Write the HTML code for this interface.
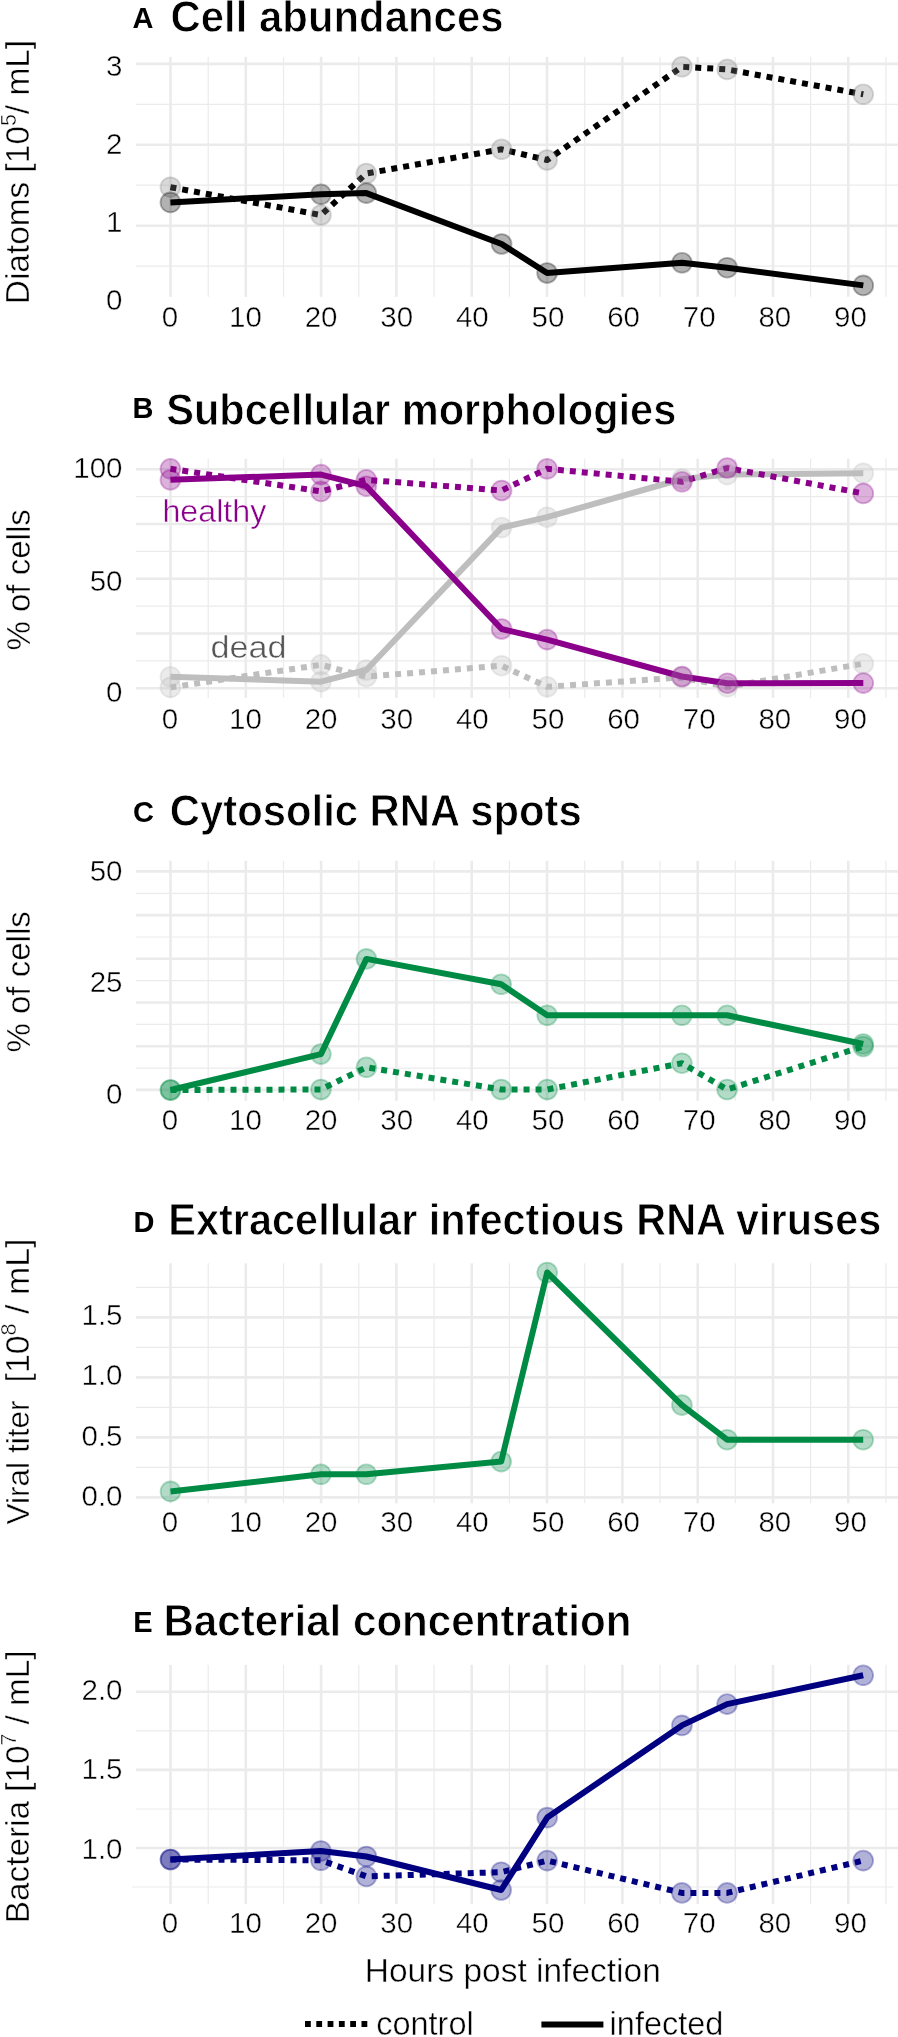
<!DOCTYPE html><html><head><meta charset="utf-8"><style>html,body{margin:0;padding:0;background:#fff;width:898px;height:2037px;overflow:hidden}svg{display:block;will-change:transform}text{font-family:"Liberation Sans",sans-serif}</style></head><body>
<svg width="898" height="2037" viewBox="0 0 898 2037">
<rect width="898" height="2037" fill="#fff"/>
<line x1="170.5" y1="56.8" x2="170.5" y2="296.8" stroke="#EBEBEB" stroke-width="2.6"/>
<line x1="245.8" y1="56.8" x2="245.8" y2="296.8" stroke="#EBEBEB" stroke-width="2.6"/>
<line x1="321.1" y1="56.8" x2="321.1" y2="296.8" stroke="#EBEBEB" stroke-width="2.6"/>
<line x1="396.4" y1="56.8" x2="396.4" y2="296.8" stroke="#EBEBEB" stroke-width="2.6"/>
<line x1="471.7" y1="56.8" x2="471.7" y2="296.8" stroke="#EBEBEB" stroke-width="2.6"/>
<line x1="547.0" y1="56.8" x2="547.0" y2="296.8" stroke="#EBEBEB" stroke-width="2.6"/>
<line x1="622.4" y1="56.8" x2="622.4" y2="296.8" stroke="#EBEBEB" stroke-width="2.6"/>
<line x1="697.7" y1="56.8" x2="697.7" y2="296.8" stroke="#EBEBEB" stroke-width="2.6"/>
<line x1="773.0" y1="56.8" x2="773.0" y2="296.8" stroke="#EBEBEB" stroke-width="2.6"/>
<line x1="848.3" y1="56.8" x2="848.3" y2="296.8" stroke="#EBEBEB" stroke-width="2.6"/>
<line x1="208.2" y1="56.8" x2="208.2" y2="296.8" stroke="#EBEBEB" stroke-width="1.2"/>
<line x1="283.5" y1="56.8" x2="283.5" y2="296.8" stroke="#EBEBEB" stroke-width="1.2"/>
<line x1="358.8" y1="56.8" x2="358.8" y2="296.8" stroke="#EBEBEB" stroke-width="1.2"/>
<line x1="434.1" y1="56.8" x2="434.1" y2="296.8" stroke="#EBEBEB" stroke-width="1.2"/>
<line x1="509.4" y1="56.8" x2="509.4" y2="296.8" stroke="#EBEBEB" stroke-width="1.2"/>
<line x1="584.7" y1="56.8" x2="584.7" y2="296.8" stroke="#EBEBEB" stroke-width="1.2"/>
<line x1="660.0" y1="56.8" x2="660.0" y2="296.8" stroke="#EBEBEB" stroke-width="1.2"/>
<line x1="735.3" y1="56.8" x2="735.3" y2="296.8" stroke="#EBEBEB" stroke-width="1.2"/>
<line x1="810.6" y1="56.8" x2="810.6" y2="296.8" stroke="#EBEBEB" stroke-width="1.2"/>
<line x1="885.9" y1="56.8" x2="885.9" y2="296.8" stroke="#EBEBEB" stroke-width="1.2"/>
<line x1="136.0" y1="104.4" x2="898.0" y2="104.4" stroke="#EBEBEB" stroke-width="1.2"/>
<line x1="136.0" y1="185.2" x2="898.0" y2="185.2" stroke="#EBEBEB" stroke-width="1.2"/>
<line x1="136.0" y1="266.2" x2="898.0" y2="266.2" stroke="#EBEBEB" stroke-width="1.2"/>
<line x1="136.0" y1="63.9" x2="898.0" y2="63.9" stroke="#EBEBEB" stroke-width="2.6"/>
<line x1="136.0" y1="144.8" x2="898.0" y2="144.8" stroke="#EBEBEB" stroke-width="2.6"/>
<line x1="136.0" y1="225.7" x2="898.0" y2="225.7" stroke="#EBEBEB" stroke-width="2.6"/>
<text x="132.5" y="27.8" font-size="29" font-weight="700" fill="#000">A</text>
<text x="170.5" y="32.2" font-size="43.5" font-weight="700" fill="#000" stroke="#fff" stroke-width="0.8" textLength="333" lengthAdjust="spacingAndGlyphs">Cell abundances</text>
<text x="122.5" y="75.9" font-size="29.5" text-anchor="end" fill="#000" stroke="#fff" stroke-width="0.45">3</text>
<text x="122.5" y="154.4" font-size="29.5" text-anchor="end" fill="#000" stroke="#fff" stroke-width="0.45">2</text>
<text x="122.5" y="231.8" font-size="29.5" text-anchor="end" fill="#000" stroke="#fff" stroke-width="0.45">1</text>
<text x="122.5" y="310.3" font-size="29.5" text-anchor="end" fill="#000" stroke="#fff" stroke-width="0.45">0</text>
<text x="169.9" y="327.2" font-size="29.5" text-anchor="middle" fill="#000" stroke="#fff" stroke-width="0.45">0</text>
<text x="245.5" y="327.2" font-size="29.5" text-anchor="middle" fill="#000" stroke="#fff" stroke-width="0.45">10</text>
<text x="321.1" y="327.2" font-size="29.5" text-anchor="middle" fill="#000" stroke="#fff" stroke-width="0.45">20</text>
<text x="396.7" y="327.2" font-size="29.5" text-anchor="middle" fill="#000" stroke="#fff" stroke-width="0.45">30</text>
<text x="472.3" y="327.2" font-size="29.5" text-anchor="middle" fill="#000" stroke="#fff" stroke-width="0.45">40</text>
<text x="548.0" y="327.2" font-size="29.5" text-anchor="middle" fill="#000" stroke="#fff" stroke-width="0.45">50</text>
<text x="623.6" y="327.2" font-size="29.5" text-anchor="middle" fill="#000" stroke="#fff" stroke-width="0.45">60</text>
<text x="699.2" y="327.2" font-size="29.5" text-anchor="middle" fill="#000" stroke="#fff" stroke-width="0.45">70</text>
<text x="774.8" y="327.2" font-size="29.5" text-anchor="middle" fill="#000" stroke="#fff" stroke-width="0.45">80</text>
<text x="850.4" y="327.2" font-size="29.5" text-anchor="middle" fill="#000" stroke="#fff" stroke-width="0.45">90</text>
<text transform="translate(29,304.2) rotate(-90)" font-size="33.4" fill="#000" stroke="#fff" stroke-width="0.45"><tspan>Diatoms [10</tspan><tspan font-size="21.4" dy="-13">5</tspan><tspan dy="13">/ mL]</tspan></text>
<path d="M170.4,202.4 L321.0,194.3 L366.3,193.1 L501.6,244.0 L547.1,273.0 L682.0,262.8 L727.2,267.7 L863.3,285.4" fill="none" stroke="#000" stroke-width="6" stroke-linejoin="round" stroke-linecap="butt"/>
<path d="M170.4,187.2 L321.0,215.0 L366.3,173.5 L501.6,149.3 L547.1,160.0 L682.0,66.8 L727.2,69.4 L863.3,94.3" fill="none" stroke="#000" stroke-width="6" stroke-linejoin="round" stroke-linecap="butt" stroke-dasharray="6 6"/>
<circle cx="170.4" cy="187.2" r="9.9" fill="#808080" fill-opacity="0.3" stroke="#808080" stroke-opacity="0.3" stroke-width="1.8"/>
<circle cx="321.0" cy="215.0" r="9.9" fill="#808080" fill-opacity="0.3" stroke="#808080" stroke-opacity="0.3" stroke-width="1.8"/>
<circle cx="366.3" cy="173.5" r="9.9" fill="#808080" fill-opacity="0.3" stroke="#808080" stroke-opacity="0.3" stroke-width="1.8"/>
<circle cx="501.6" cy="149.3" r="9.9" fill="#808080" fill-opacity="0.3" stroke="#808080" stroke-opacity="0.3" stroke-width="1.8"/>
<circle cx="547.1" cy="160.0" r="9.9" fill="#808080" fill-opacity="0.3" stroke="#808080" stroke-opacity="0.3" stroke-width="1.8"/>
<circle cx="682.0" cy="66.8" r="9.9" fill="#808080" fill-opacity="0.3" stroke="#808080" stroke-opacity="0.3" stroke-width="1.8"/>
<circle cx="727.2" cy="69.4" r="9.9" fill="#808080" fill-opacity="0.3" stroke="#808080" stroke-opacity="0.3" stroke-width="1.8"/>
<circle cx="863.3" cy="94.3" r="9.9" fill="#808080" fill-opacity="0.3" stroke="#808080" stroke-opacity="0.3" stroke-width="1.8"/>
<circle cx="170.4" cy="202.4" r="9.9" fill="#000" fill-opacity="0.3" stroke="#000" stroke-opacity="0.3" stroke-width="1.8"/>
<circle cx="321.0" cy="194.3" r="9.9" fill="#000" fill-opacity="0.3" stroke="#000" stroke-opacity="0.3" stroke-width="1.8"/>
<circle cx="366.3" cy="193.1" r="9.9" fill="#000" fill-opacity="0.3" stroke="#000" stroke-opacity="0.3" stroke-width="1.8"/>
<circle cx="501.6" cy="244.0" r="9.9" fill="#000" fill-opacity="0.3" stroke="#000" stroke-opacity="0.3" stroke-width="1.8"/>
<circle cx="547.1" cy="273.0" r="9.9" fill="#000" fill-opacity="0.3" stroke="#000" stroke-opacity="0.3" stroke-width="1.8"/>
<circle cx="682.0" cy="262.8" r="9.9" fill="#000" fill-opacity="0.3" stroke="#000" stroke-opacity="0.3" stroke-width="1.8"/>
<circle cx="727.2" cy="267.7" r="9.9" fill="#000" fill-opacity="0.3" stroke="#000" stroke-opacity="0.3" stroke-width="1.8"/>
<circle cx="863.3" cy="285.4" r="9.9" fill="#000" fill-opacity="0.3" stroke="#000" stroke-opacity="0.3" stroke-width="1.8"/>
<line x1="170.5" y1="458.7" x2="170.5" y2="697.9" stroke="#EBEBEB" stroke-width="2.6"/>
<line x1="245.8" y1="458.7" x2="245.8" y2="697.9" stroke="#EBEBEB" stroke-width="2.6"/>
<line x1="321.1" y1="458.7" x2="321.1" y2="697.9" stroke="#EBEBEB" stroke-width="2.6"/>
<line x1="396.4" y1="458.7" x2="396.4" y2="697.9" stroke="#EBEBEB" stroke-width="2.6"/>
<line x1="471.7" y1="458.7" x2="471.7" y2="697.9" stroke="#EBEBEB" stroke-width="2.6"/>
<line x1="547.0" y1="458.7" x2="547.0" y2="697.9" stroke="#EBEBEB" stroke-width="2.6"/>
<line x1="622.4" y1="458.7" x2="622.4" y2="697.9" stroke="#EBEBEB" stroke-width="2.6"/>
<line x1="697.7" y1="458.7" x2="697.7" y2="697.9" stroke="#EBEBEB" stroke-width="2.6"/>
<line x1="773.0" y1="458.7" x2="773.0" y2="697.9" stroke="#EBEBEB" stroke-width="2.6"/>
<line x1="848.3" y1="458.7" x2="848.3" y2="697.9" stroke="#EBEBEB" stroke-width="2.6"/>
<line x1="208.2" y1="458.7" x2="208.2" y2="697.9" stroke="#EBEBEB" stroke-width="1.2"/>
<line x1="283.5" y1="458.7" x2="283.5" y2="697.9" stroke="#EBEBEB" stroke-width="1.2"/>
<line x1="358.8" y1="458.7" x2="358.8" y2="697.9" stroke="#EBEBEB" stroke-width="1.2"/>
<line x1="434.1" y1="458.7" x2="434.1" y2="697.9" stroke="#EBEBEB" stroke-width="1.2"/>
<line x1="509.4" y1="458.7" x2="509.4" y2="697.9" stroke="#EBEBEB" stroke-width="1.2"/>
<line x1="584.7" y1="458.7" x2="584.7" y2="697.9" stroke="#EBEBEB" stroke-width="1.2"/>
<line x1="660.0" y1="458.7" x2="660.0" y2="697.9" stroke="#EBEBEB" stroke-width="1.2"/>
<line x1="735.3" y1="458.7" x2="735.3" y2="697.9" stroke="#EBEBEB" stroke-width="1.2"/>
<line x1="810.6" y1="458.7" x2="810.6" y2="697.9" stroke="#EBEBEB" stroke-width="1.2"/>
<line x1="885.9" y1="458.7" x2="885.9" y2="697.9" stroke="#EBEBEB" stroke-width="1.2"/>
<line x1="136.0" y1="660.9" x2="898.0" y2="660.9" stroke="#EBEBEB" stroke-width="1.2"/>
<line x1="136.0" y1="606.1" x2="898.0" y2="606.1" stroke="#EBEBEB" stroke-width="1.2"/>
<line x1="136.0" y1="551.4" x2="898.0" y2="551.4" stroke="#EBEBEB" stroke-width="1.2"/>
<line x1="136.0" y1="496.6" x2="898.0" y2="496.6" stroke="#EBEBEB" stroke-width="1.2"/>
<line x1="136.0" y1="688.3" x2="898.0" y2="688.3" stroke="#EBEBEB" stroke-width="2.6"/>
<line x1="136.0" y1="633.5" x2="898.0" y2="633.5" stroke="#EBEBEB" stroke-width="2.6"/>
<line x1="136.0" y1="578.8" x2="898.0" y2="578.8" stroke="#EBEBEB" stroke-width="2.6"/>
<line x1="136.0" y1="524.0" x2="898.0" y2="524.0" stroke="#EBEBEB" stroke-width="2.6"/>
<line x1="136.0" y1="469.2" x2="898.0" y2="469.2" stroke="#EBEBEB" stroke-width="2.6"/>
<text x="132.5" y="418.2" font-size="29" font-weight="700" fill="#000">B</text>
<text x="166.3" y="425.0" font-size="43.5" font-weight="700" fill="#000" stroke="#fff" stroke-width="0.8" textLength="510" lengthAdjust="spacingAndGlyphs">Subcellular morphologies</text>
<text x="122.5" y="478.2" font-size="29.5" text-anchor="end" fill="#000" stroke="#fff" stroke-width="0.45">100</text>
<text x="122.5" y="590.8" font-size="29.5" text-anchor="end" fill="#000" stroke="#fff" stroke-width="0.45">50</text>
<text x="122.5" y="701.9" font-size="29.5" text-anchor="end" fill="#000" stroke="#fff" stroke-width="0.45">0</text>
<text x="169.9" y="728.6" font-size="29.5" text-anchor="middle" fill="#000" stroke="#fff" stroke-width="0.45">0</text>
<text x="245.5" y="728.6" font-size="29.5" text-anchor="middle" fill="#000" stroke="#fff" stroke-width="0.45">10</text>
<text x="321.1" y="728.6" font-size="29.5" text-anchor="middle" fill="#000" stroke="#fff" stroke-width="0.45">20</text>
<text x="396.7" y="728.6" font-size="29.5" text-anchor="middle" fill="#000" stroke="#fff" stroke-width="0.45">30</text>
<text x="472.3" y="728.6" font-size="29.5" text-anchor="middle" fill="#000" stroke="#fff" stroke-width="0.45">40</text>
<text x="548.0" y="728.6" font-size="29.5" text-anchor="middle" fill="#000" stroke="#fff" stroke-width="0.45">50</text>
<text x="623.6" y="728.6" font-size="29.5" text-anchor="middle" fill="#000" stroke="#fff" stroke-width="0.45">60</text>
<text x="699.2" y="728.6" font-size="29.5" text-anchor="middle" fill="#000" stroke="#fff" stroke-width="0.45">70</text>
<text x="774.8" y="728.6" font-size="29.5" text-anchor="middle" fill="#000" stroke="#fff" stroke-width="0.45">80</text>
<text x="850.4" y="728.6" font-size="29.5" text-anchor="middle" fill="#000" stroke="#fff" stroke-width="0.45">90</text>
<text transform="translate(29.8,650.5) rotate(-90)" font-size="33" fill="#000" stroke="#fff" stroke-width="0.45"><tspan>% of cells</tspan></text>
<path d="M170.4,687.4 L321.0,664.8 L366.3,676.7 L501.6,665.7 L547.1,686.8 L682.0,677.4 L727.4,686.8 L863.3,663.7" fill="none" stroke="#BEBEBE" stroke-width="6" stroke-linejoin="round" stroke-linecap="butt" stroke-dasharray="6 6"/>
<path d="M170.4,676.8 L321.0,681.7 L366.3,670.0 L501.6,527.6 L547.1,517.2 L682.0,479.0 L727.2,474.6 L863.3,473.2" fill="none" stroke="#BEBEBE" stroke-width="6" stroke-linejoin="round" stroke-linecap="butt"/>
<path d="M170.4,468.8 L321.0,491.4 L366.3,479.8 L501.6,490.5 L547.1,468.8 L682.0,481.8 L727.2,468.0 L863.3,493.4" fill="none" stroke="#8B008B" stroke-width="6" stroke-linejoin="round" stroke-linecap="butt" stroke-dasharray="6 6"/>
<path d="M170.4,479.8 L321.0,474.6 L366.3,486.2 L501.6,629.0 L547.1,639.6 L682.0,676.5 L727.4,683.2 L863.3,683.1" fill="none" stroke="#8B008B" stroke-width="6" stroke-linejoin="round" stroke-linecap="butt"/>
<circle cx="170.4" cy="687.4" r="9.9" fill="#BEBEBE" fill-opacity="0.3" stroke="#BEBEBE" stroke-opacity="0.3" stroke-width="1.8"/>
<circle cx="321.0" cy="664.8" r="9.9" fill="#BEBEBE" fill-opacity="0.3" stroke="#BEBEBE" stroke-opacity="0.3" stroke-width="1.8"/>
<circle cx="366.3" cy="676.7" r="9.9" fill="#BEBEBE" fill-opacity="0.3" stroke="#BEBEBE" stroke-opacity="0.3" stroke-width="1.8"/>
<circle cx="501.6" cy="665.7" r="9.9" fill="#BEBEBE" fill-opacity="0.3" stroke="#BEBEBE" stroke-opacity="0.3" stroke-width="1.8"/>
<circle cx="547.1" cy="686.8" r="9.9" fill="#BEBEBE" fill-opacity="0.3" stroke="#BEBEBE" stroke-opacity="0.3" stroke-width="1.8"/>
<circle cx="682.0" cy="677.4" r="9.9" fill="#BEBEBE" fill-opacity="0.3" stroke="#BEBEBE" stroke-opacity="0.3" stroke-width="1.8"/>
<circle cx="727.4" cy="686.8" r="9.9" fill="#BEBEBE" fill-opacity="0.3" stroke="#BEBEBE" stroke-opacity="0.3" stroke-width="1.8"/>
<circle cx="863.3" cy="663.7" r="9.9" fill="#BEBEBE" fill-opacity="0.3" stroke="#BEBEBE" stroke-opacity="0.3" stroke-width="1.8"/>
<circle cx="170.4" cy="676.8" r="9.9" fill="#BEBEBE" fill-opacity="0.3" stroke="#BEBEBE" stroke-opacity="0.3" stroke-width="1.8"/>
<circle cx="321.0" cy="681.7" r="9.9" fill="#BEBEBE" fill-opacity="0.3" stroke="#BEBEBE" stroke-opacity="0.3" stroke-width="1.8"/>
<circle cx="366.3" cy="670.0" r="9.9" fill="#BEBEBE" fill-opacity="0.3" stroke="#BEBEBE" stroke-opacity="0.3" stroke-width="1.8"/>
<circle cx="501.6" cy="527.6" r="9.9" fill="#BEBEBE" fill-opacity="0.3" stroke="#BEBEBE" stroke-opacity="0.3" stroke-width="1.8"/>
<circle cx="547.1" cy="517.2" r="9.9" fill="#BEBEBE" fill-opacity="0.3" stroke="#BEBEBE" stroke-opacity="0.3" stroke-width="1.8"/>
<circle cx="682.0" cy="479.0" r="9.9" fill="#BEBEBE" fill-opacity="0.3" stroke="#BEBEBE" stroke-opacity="0.3" stroke-width="1.8"/>
<circle cx="727.2" cy="474.6" r="9.9" fill="#BEBEBE" fill-opacity="0.3" stroke="#BEBEBE" stroke-opacity="0.3" stroke-width="1.8"/>
<circle cx="863.3" cy="473.2" r="9.9" fill="#BEBEBE" fill-opacity="0.3" stroke="#BEBEBE" stroke-opacity="0.3" stroke-width="1.8"/>
<circle cx="170.4" cy="468.8" r="9.9" fill="#8B008B" fill-opacity="0.3" stroke="#8B008B" stroke-opacity="0.3" stroke-width="1.8"/>
<circle cx="321.0" cy="491.4" r="9.9" fill="#8B008B" fill-opacity="0.3" stroke="#8B008B" stroke-opacity="0.3" stroke-width="1.8"/>
<circle cx="366.3" cy="479.8" r="9.9" fill="#8B008B" fill-opacity="0.3" stroke="#8B008B" stroke-opacity="0.3" stroke-width="1.8"/>
<circle cx="501.6" cy="490.5" r="9.9" fill="#8B008B" fill-opacity="0.3" stroke="#8B008B" stroke-opacity="0.3" stroke-width="1.8"/>
<circle cx="547.1" cy="468.8" r="9.9" fill="#8B008B" fill-opacity="0.3" stroke="#8B008B" stroke-opacity="0.3" stroke-width="1.8"/>
<circle cx="682.0" cy="481.8" r="9.9" fill="#8B008B" fill-opacity="0.3" stroke="#8B008B" stroke-opacity="0.3" stroke-width="1.8"/>
<circle cx="727.2" cy="468.0" r="9.9" fill="#8B008B" fill-opacity="0.3" stroke="#8B008B" stroke-opacity="0.3" stroke-width="1.8"/>
<circle cx="863.3" cy="493.4" r="9.9" fill="#8B008B" fill-opacity="0.3" stroke="#8B008B" stroke-opacity="0.3" stroke-width="1.8"/>
<circle cx="170.4" cy="479.8" r="9.9" fill="#8B008B" fill-opacity="0.3" stroke="#8B008B" stroke-opacity="0.3" stroke-width="1.8"/>
<circle cx="321.0" cy="474.6" r="9.9" fill="#8B008B" fill-opacity="0.3" stroke="#8B008B" stroke-opacity="0.3" stroke-width="1.8"/>
<circle cx="366.3" cy="486.2" r="9.9" fill="#8B008B" fill-opacity="0.3" stroke="#8B008B" stroke-opacity="0.3" stroke-width="1.8"/>
<circle cx="501.6" cy="629.0" r="9.9" fill="#8B008B" fill-opacity="0.3" stroke="#8B008B" stroke-opacity="0.3" stroke-width="1.8"/>
<circle cx="547.1" cy="639.6" r="9.9" fill="#8B008B" fill-opacity="0.3" stroke="#8B008B" stroke-opacity="0.3" stroke-width="1.8"/>
<circle cx="682.0" cy="676.5" r="9.9" fill="#8B008B" fill-opacity="0.3" stroke="#8B008B" stroke-opacity="0.3" stroke-width="1.8"/>
<circle cx="727.4" cy="683.2" r="9.9" fill="#8B008B" fill-opacity="0.3" stroke="#8B008B" stroke-opacity="0.3" stroke-width="1.8"/>
<circle cx="863.3" cy="683.1" r="9.9" fill="#8B008B" fill-opacity="0.3" stroke="#8B008B" stroke-opacity="0.3" stroke-width="1.8"/>
<text x="162.4" y="522.4" textLength="104" lengthAdjust="spacingAndGlyphs" font-size="31.5" fill="#8B008B" stroke="#fff" stroke-width="0.45">healthy</text>
<text x="210.4" y="657.6" textLength="76" lengthAdjust="spacingAndGlyphs" font-size="31.5" fill="#555" stroke="#fff" stroke-width="0.45">dead</text>
<line x1="170.5" y1="860.7" x2="170.5" y2="1100.8" stroke="#EBEBEB" stroke-width="2.6"/>
<line x1="245.8" y1="860.7" x2="245.8" y2="1100.8" stroke="#EBEBEB" stroke-width="2.6"/>
<line x1="321.1" y1="860.7" x2="321.1" y2="1100.8" stroke="#EBEBEB" stroke-width="2.6"/>
<line x1="396.4" y1="860.7" x2="396.4" y2="1100.8" stroke="#EBEBEB" stroke-width="2.6"/>
<line x1="471.7" y1="860.7" x2="471.7" y2="1100.8" stroke="#EBEBEB" stroke-width="2.6"/>
<line x1="547.0" y1="860.7" x2="547.0" y2="1100.8" stroke="#EBEBEB" stroke-width="2.6"/>
<line x1="622.4" y1="860.7" x2="622.4" y2="1100.8" stroke="#EBEBEB" stroke-width="2.6"/>
<line x1="697.7" y1="860.7" x2="697.7" y2="1100.8" stroke="#EBEBEB" stroke-width="2.6"/>
<line x1="773.0" y1="860.7" x2="773.0" y2="1100.8" stroke="#EBEBEB" stroke-width="2.6"/>
<line x1="848.3" y1="860.7" x2="848.3" y2="1100.8" stroke="#EBEBEB" stroke-width="2.6"/>
<line x1="208.2" y1="860.7" x2="208.2" y2="1100.8" stroke="#EBEBEB" stroke-width="1.2"/>
<line x1="283.5" y1="860.7" x2="283.5" y2="1100.8" stroke="#EBEBEB" stroke-width="1.2"/>
<line x1="358.8" y1="860.7" x2="358.8" y2="1100.8" stroke="#EBEBEB" stroke-width="1.2"/>
<line x1="434.1" y1="860.7" x2="434.1" y2="1100.8" stroke="#EBEBEB" stroke-width="1.2"/>
<line x1="509.4" y1="860.7" x2="509.4" y2="1100.8" stroke="#EBEBEB" stroke-width="1.2"/>
<line x1="584.7" y1="860.7" x2="584.7" y2="1100.8" stroke="#EBEBEB" stroke-width="1.2"/>
<line x1="660.0" y1="860.7" x2="660.0" y2="1100.8" stroke="#EBEBEB" stroke-width="1.2"/>
<line x1="735.3" y1="860.7" x2="735.3" y2="1100.8" stroke="#EBEBEB" stroke-width="1.2"/>
<line x1="810.6" y1="860.7" x2="810.6" y2="1100.8" stroke="#EBEBEB" stroke-width="1.2"/>
<line x1="885.9" y1="860.7" x2="885.9" y2="1100.8" stroke="#EBEBEB" stroke-width="1.2"/>
<line x1="136.0" y1="1068.1" x2="898.0" y2="1068.1" stroke="#EBEBEB" stroke-width="1.2"/>
<line x1="136.0" y1="1024.4" x2="898.0" y2="1024.4" stroke="#EBEBEB" stroke-width="1.2"/>
<line x1="136.0" y1="980.7" x2="898.0" y2="980.7" stroke="#EBEBEB" stroke-width="1.2"/>
<line x1="136.0" y1="937.0" x2="898.0" y2="937.0" stroke="#EBEBEB" stroke-width="1.2"/>
<line x1="136.0" y1="893.3" x2="898.0" y2="893.3" stroke="#EBEBEB" stroke-width="1.2"/>
<line x1="136.0" y1="1089.9" x2="898.0" y2="1089.9" stroke="#EBEBEB" stroke-width="2.6"/>
<line x1="136.0" y1="1046.2" x2="898.0" y2="1046.2" stroke="#EBEBEB" stroke-width="2.6"/>
<line x1="136.0" y1="1002.5" x2="898.0" y2="1002.5" stroke="#EBEBEB" stroke-width="2.6"/>
<line x1="136.0" y1="958.8" x2="898.0" y2="958.8" stroke="#EBEBEB" stroke-width="2.6"/>
<line x1="136.0" y1="915.1" x2="898.0" y2="915.1" stroke="#EBEBEB" stroke-width="2.6"/>
<line x1="136.0" y1="871.4" x2="898.0" y2="871.4" stroke="#EBEBEB" stroke-width="2.6"/>
<text x="133" y="822" font-size="29" font-weight="700" fill="#000">C</text>
<text x="169.8" y="826.2" font-size="43.5" font-weight="700" fill="#000" stroke="#fff" stroke-width="0.8" textLength="412" lengthAdjust="spacingAndGlyphs">Cytosolic RNA spots</text>
<text x="122.5" y="880.8" font-size="29.5" text-anchor="end" fill="#000" stroke="#fff" stroke-width="0.45">50</text>
<text x="122.5" y="992.3" font-size="29.5" text-anchor="end" fill="#000" stroke="#fff" stroke-width="0.45">25</text>
<text x="122.5" y="1104.2" font-size="29.5" text-anchor="end" fill="#000" stroke="#fff" stroke-width="0.45">0</text>
<text x="169.9" y="1130.3" font-size="29.5" text-anchor="middle" fill="#000" stroke="#fff" stroke-width="0.45">0</text>
<text x="245.5" y="1130.3" font-size="29.5" text-anchor="middle" fill="#000" stroke="#fff" stroke-width="0.45">10</text>
<text x="321.1" y="1130.3" font-size="29.5" text-anchor="middle" fill="#000" stroke="#fff" stroke-width="0.45">20</text>
<text x="396.7" y="1130.3" font-size="29.5" text-anchor="middle" fill="#000" stroke="#fff" stroke-width="0.45">30</text>
<text x="472.3" y="1130.3" font-size="29.5" text-anchor="middle" fill="#000" stroke="#fff" stroke-width="0.45">40</text>
<text x="548.0" y="1130.3" font-size="29.5" text-anchor="middle" fill="#000" stroke="#fff" stroke-width="0.45">50</text>
<text x="623.6" y="1130.3" font-size="29.5" text-anchor="middle" fill="#000" stroke="#fff" stroke-width="0.45">60</text>
<text x="699.2" y="1130.3" font-size="29.5" text-anchor="middle" fill="#000" stroke="#fff" stroke-width="0.45">70</text>
<text x="774.8" y="1130.3" font-size="29.5" text-anchor="middle" fill="#000" stroke="#fff" stroke-width="0.45">80</text>
<text x="850.4" y="1130.3" font-size="29.5" text-anchor="middle" fill="#000" stroke="#fff" stroke-width="0.45">90</text>
<text transform="translate(29.8,1052.5) rotate(-90)" font-size="33" fill="#000" stroke="#fff" stroke-width="0.45"><tspan>% of cells</tspan></text>
<path d="M170.5,1090.0 L320.9,1089.5 L366.4,1067.3 L501.2,1089.5 L547.2,1089.5 L681.9,1063.2 L727.1,1089.5 L863.2,1046.5" fill="none" stroke="#008B45" stroke-width="6" stroke-linejoin="round" stroke-linecap="butt" stroke-dasharray="6 6"/>
<path d="M170.5,1090.0 L320.9,1054.1 L366.4,958.9 L501.2,984.3 L547.2,1015.3 L681.9,1015.3 L727.1,1015.3 L863.2,1044.0" fill="none" stroke="#008B45" stroke-width="6" stroke-linejoin="round" stroke-linecap="butt"/>
<circle cx="170.5" cy="1090.0" r="9.9" fill="#008B45" fill-opacity="0.3" stroke="#008B45" stroke-opacity="0.3" stroke-width="1.8"/>
<circle cx="320.9" cy="1089.5" r="9.9" fill="#008B45" fill-opacity="0.3" stroke="#008B45" stroke-opacity="0.3" stroke-width="1.8"/>
<circle cx="366.4" cy="1067.3" r="9.9" fill="#008B45" fill-opacity="0.3" stroke="#008B45" stroke-opacity="0.3" stroke-width="1.8"/>
<circle cx="501.2" cy="1089.5" r="9.9" fill="#008B45" fill-opacity="0.3" stroke="#008B45" stroke-opacity="0.3" stroke-width="1.8"/>
<circle cx="547.2" cy="1089.5" r="9.9" fill="#008B45" fill-opacity="0.3" stroke="#008B45" stroke-opacity="0.3" stroke-width="1.8"/>
<circle cx="681.9" cy="1063.2" r="9.9" fill="#008B45" fill-opacity="0.3" stroke="#008B45" stroke-opacity="0.3" stroke-width="1.8"/>
<circle cx="727.1" cy="1089.5" r="9.9" fill="#008B45" fill-opacity="0.3" stroke="#008B45" stroke-opacity="0.3" stroke-width="1.8"/>
<circle cx="863.2" cy="1046.5" r="9.9" fill="#008B45" fill-opacity="0.3" stroke="#008B45" stroke-opacity="0.3" stroke-width="1.8"/>
<circle cx="170.5" cy="1090.0" r="9.9" fill="#008B45" fill-opacity="0.3" stroke="#008B45" stroke-opacity="0.3" stroke-width="1.8"/>
<circle cx="320.9" cy="1054.1" r="9.9" fill="#008B45" fill-opacity="0.3" stroke="#008B45" stroke-opacity="0.3" stroke-width="1.8"/>
<circle cx="366.4" cy="958.9" r="9.9" fill="#008B45" fill-opacity="0.3" stroke="#008B45" stroke-opacity="0.3" stroke-width="1.8"/>
<circle cx="501.2" cy="984.3" r="9.9" fill="#008B45" fill-opacity="0.3" stroke="#008B45" stroke-opacity="0.3" stroke-width="1.8"/>
<circle cx="547.2" cy="1015.3" r="9.9" fill="#008B45" fill-opacity="0.3" stroke="#008B45" stroke-opacity="0.3" stroke-width="1.8"/>
<circle cx="681.9" cy="1015.3" r="9.9" fill="#008B45" fill-opacity="0.3" stroke="#008B45" stroke-opacity="0.3" stroke-width="1.8"/>
<circle cx="727.1" cy="1015.3" r="9.9" fill="#008B45" fill-opacity="0.3" stroke="#008B45" stroke-opacity="0.3" stroke-width="1.8"/>
<circle cx="863.2" cy="1044.0" r="9.9" fill="#008B45" fill-opacity="0.3" stroke="#008B45" stroke-opacity="0.3" stroke-width="1.8"/>
<line x1="170.5" y1="1263.3" x2="170.5" y2="1503.3" stroke="#EBEBEB" stroke-width="2.6"/>
<line x1="245.8" y1="1263.3" x2="245.8" y2="1503.3" stroke="#EBEBEB" stroke-width="2.6"/>
<line x1="321.1" y1="1263.3" x2="321.1" y2="1503.3" stroke="#EBEBEB" stroke-width="2.6"/>
<line x1="396.4" y1="1263.3" x2="396.4" y2="1503.3" stroke="#EBEBEB" stroke-width="2.6"/>
<line x1="471.7" y1="1263.3" x2="471.7" y2="1503.3" stroke="#EBEBEB" stroke-width="2.6"/>
<line x1="547.0" y1="1263.3" x2="547.0" y2="1503.3" stroke="#EBEBEB" stroke-width="2.6"/>
<line x1="622.4" y1="1263.3" x2="622.4" y2="1503.3" stroke="#EBEBEB" stroke-width="2.6"/>
<line x1="697.7" y1="1263.3" x2="697.7" y2="1503.3" stroke="#EBEBEB" stroke-width="2.6"/>
<line x1="773.0" y1="1263.3" x2="773.0" y2="1503.3" stroke="#EBEBEB" stroke-width="2.6"/>
<line x1="848.3" y1="1263.3" x2="848.3" y2="1503.3" stroke="#EBEBEB" stroke-width="2.6"/>
<line x1="208.2" y1="1263.3" x2="208.2" y2="1503.3" stroke="#EBEBEB" stroke-width="1.2"/>
<line x1="283.5" y1="1263.3" x2="283.5" y2="1503.3" stroke="#EBEBEB" stroke-width="1.2"/>
<line x1="358.8" y1="1263.3" x2="358.8" y2="1503.3" stroke="#EBEBEB" stroke-width="1.2"/>
<line x1="434.1" y1="1263.3" x2="434.1" y2="1503.3" stroke="#EBEBEB" stroke-width="1.2"/>
<line x1="509.4" y1="1263.3" x2="509.4" y2="1503.3" stroke="#EBEBEB" stroke-width="1.2"/>
<line x1="584.7" y1="1263.3" x2="584.7" y2="1503.3" stroke="#EBEBEB" stroke-width="1.2"/>
<line x1="660.0" y1="1263.3" x2="660.0" y2="1503.3" stroke="#EBEBEB" stroke-width="1.2"/>
<line x1="735.3" y1="1263.3" x2="735.3" y2="1503.3" stroke="#EBEBEB" stroke-width="1.2"/>
<line x1="810.6" y1="1263.3" x2="810.6" y2="1503.3" stroke="#EBEBEB" stroke-width="1.2"/>
<line x1="885.9" y1="1263.3" x2="885.9" y2="1503.3" stroke="#EBEBEB" stroke-width="1.2"/>
<line x1="136.0" y1="1467.4" x2="898.0" y2="1467.4" stroke="#EBEBEB" stroke-width="1.2"/>
<line x1="136.0" y1="1407.4" x2="898.0" y2="1407.4" stroke="#EBEBEB" stroke-width="1.2"/>
<line x1="136.0" y1="1347.4" x2="898.0" y2="1347.4" stroke="#EBEBEB" stroke-width="1.2"/>
<line x1="136.0" y1="1287.4" x2="898.0" y2="1287.4" stroke="#EBEBEB" stroke-width="1.2"/>
<line x1="136.0" y1="1497.4" x2="898.0" y2="1497.4" stroke="#EBEBEB" stroke-width="2.6"/>
<line x1="136.0" y1="1437.4" x2="898.0" y2="1437.4" stroke="#EBEBEB" stroke-width="2.6"/>
<line x1="136.0" y1="1377.4" x2="898.0" y2="1377.4" stroke="#EBEBEB" stroke-width="2.6"/>
<line x1="136.0" y1="1317.4" x2="898.0" y2="1317.4" stroke="#EBEBEB" stroke-width="2.6"/>
<text x="133.4" y="1232.4" font-size="29" font-weight="700" fill="#000">D</text>
<text x="168.3" y="1235.2" font-size="43.5" font-weight="700" fill="#000" stroke="#fff" stroke-width="0.8" textLength="713" lengthAdjust="spacingAndGlyphs">Extracellular infectious RNA viruses</text>
<text x="122.5" y="1324.8" font-size="29.5" text-anchor="end" fill="#000" stroke="#fff" stroke-width="0.45">1.5</text>
<text x="122.5" y="1384.9" font-size="29.5" text-anchor="end" fill="#000" stroke="#fff" stroke-width="0.45">1.0</text>
<text x="122.5" y="1446.0" font-size="29.5" text-anchor="end" fill="#000" stroke="#fff" stroke-width="0.45">0.5</text>
<text x="122.5" y="1506.0" font-size="29.5" text-anchor="end" fill="#000" stroke="#fff" stroke-width="0.45">0.0</text>
<text x="169.9" y="1531.7" font-size="29.5" text-anchor="middle" fill="#000" stroke="#fff" stroke-width="0.45">0</text>
<text x="245.5" y="1531.7" font-size="29.5" text-anchor="middle" fill="#000" stroke="#fff" stroke-width="0.45">10</text>
<text x="321.1" y="1531.7" font-size="29.5" text-anchor="middle" fill="#000" stroke="#fff" stroke-width="0.45">20</text>
<text x="396.7" y="1531.7" font-size="29.5" text-anchor="middle" fill="#000" stroke="#fff" stroke-width="0.45">30</text>
<text x="472.3" y="1531.7" font-size="29.5" text-anchor="middle" fill="#000" stroke="#fff" stroke-width="0.45">40</text>
<text x="548.0" y="1531.7" font-size="29.5" text-anchor="middle" fill="#000" stroke="#fff" stroke-width="0.45">50</text>
<text x="623.6" y="1531.7" font-size="29.5" text-anchor="middle" fill="#000" stroke="#fff" stroke-width="0.45">60</text>
<text x="699.2" y="1531.7" font-size="29.5" text-anchor="middle" fill="#000" stroke="#fff" stroke-width="0.45">70</text>
<text x="774.8" y="1531.7" font-size="29.5" text-anchor="middle" fill="#000" stroke="#fff" stroke-width="0.45">80</text>
<text x="850.4" y="1531.7" font-size="29.5" text-anchor="middle" fill="#000" stroke="#fff" stroke-width="0.45">90</text>
<text transform="translate(28.9,1524.5) rotate(-90)" font-size="31.6" fill="#000" stroke="#fff" stroke-width="0.45"><tspan>Viral titer</tspan></text>
<text transform="translate(28.9,1382.5) rotate(-90)" font-size="33.9" fill="#000" stroke="#fff" stroke-width="0.45"><tspan>[10</tspan><tspan font-size="21.7" dy="-13">8</tspan><tspan dy="13"> / mL]</tspan></text>
<path d="M170.5,1491.4 L320.9,1474.3 L366.4,1474.3 L501.2,1461.6 L547.2,1272.5 L681.9,1405.1 L727.1,1439.7 L863.2,1439.7" fill="none" stroke="#008B45" stroke-width="6" stroke-linejoin="round" stroke-linecap="butt"/>
<circle cx="170.5" cy="1491.4" r="9.9" fill="#008B45" fill-opacity="0.3" stroke="#008B45" stroke-opacity="0.3" stroke-width="1.8"/>
<circle cx="320.9" cy="1474.3" r="9.9" fill="#008B45" fill-opacity="0.3" stroke="#008B45" stroke-opacity="0.3" stroke-width="1.8"/>
<circle cx="366.4" cy="1474.3" r="9.9" fill="#008B45" fill-opacity="0.3" stroke="#008B45" stroke-opacity="0.3" stroke-width="1.8"/>
<circle cx="501.2" cy="1461.6" r="9.9" fill="#008B45" fill-opacity="0.3" stroke="#008B45" stroke-opacity="0.3" stroke-width="1.8"/>
<circle cx="547.2" cy="1272.5" r="9.9" fill="#008B45" fill-opacity="0.3" stroke="#008B45" stroke-opacity="0.3" stroke-width="1.8"/>
<circle cx="681.9" cy="1405.1" r="9.9" fill="#008B45" fill-opacity="0.3" stroke="#008B45" stroke-opacity="0.3" stroke-width="1.8"/>
<circle cx="727.1" cy="1439.7" r="9.9" fill="#008B45" fill-opacity="0.3" stroke="#008B45" stroke-opacity="0.3" stroke-width="1.8"/>
<circle cx="863.2" cy="1439.7" r="9.9" fill="#008B45" fill-opacity="0.3" stroke="#008B45" stroke-opacity="0.3" stroke-width="1.8"/>
<line x1="170.5" y1="1664.8" x2="170.5" y2="1904.1" stroke="#EBEBEB" stroke-width="2.6"/>
<line x1="245.8" y1="1664.8" x2="245.8" y2="1904.1" stroke="#EBEBEB" stroke-width="2.6"/>
<line x1="321.1" y1="1664.8" x2="321.1" y2="1904.1" stroke="#EBEBEB" stroke-width="2.6"/>
<line x1="396.4" y1="1664.8" x2="396.4" y2="1904.1" stroke="#EBEBEB" stroke-width="2.6"/>
<line x1="471.7" y1="1664.8" x2="471.7" y2="1904.1" stroke="#EBEBEB" stroke-width="2.6"/>
<line x1="547.0" y1="1664.8" x2="547.0" y2="1904.1" stroke="#EBEBEB" stroke-width="2.6"/>
<line x1="622.4" y1="1664.8" x2="622.4" y2="1904.1" stroke="#EBEBEB" stroke-width="2.6"/>
<line x1="697.7" y1="1664.8" x2="697.7" y2="1904.1" stroke="#EBEBEB" stroke-width="2.6"/>
<line x1="773.0" y1="1664.8" x2="773.0" y2="1904.1" stroke="#EBEBEB" stroke-width="2.6"/>
<line x1="848.3" y1="1664.8" x2="848.3" y2="1904.1" stroke="#EBEBEB" stroke-width="2.6"/>
<line x1="208.2" y1="1664.8" x2="208.2" y2="1904.1" stroke="#EBEBEB" stroke-width="1.2"/>
<line x1="283.5" y1="1664.8" x2="283.5" y2="1904.1" stroke="#EBEBEB" stroke-width="1.2"/>
<line x1="358.8" y1="1664.8" x2="358.8" y2="1904.1" stroke="#EBEBEB" stroke-width="1.2"/>
<line x1="434.1" y1="1664.8" x2="434.1" y2="1904.1" stroke="#EBEBEB" stroke-width="1.2"/>
<line x1="509.4" y1="1664.8" x2="509.4" y2="1904.1" stroke="#EBEBEB" stroke-width="1.2"/>
<line x1="584.7" y1="1664.8" x2="584.7" y2="1904.1" stroke="#EBEBEB" stroke-width="1.2"/>
<line x1="660.0" y1="1664.8" x2="660.0" y2="1904.1" stroke="#EBEBEB" stroke-width="1.2"/>
<line x1="735.3" y1="1664.8" x2="735.3" y2="1904.1" stroke="#EBEBEB" stroke-width="1.2"/>
<line x1="810.6" y1="1664.8" x2="810.6" y2="1904.1" stroke="#EBEBEB" stroke-width="1.2"/>
<line x1="885.9" y1="1664.8" x2="885.9" y2="1904.1" stroke="#EBEBEB" stroke-width="1.2"/>
<line x1="136.0" y1="1809.0" x2="898.0" y2="1809.0" stroke="#EBEBEB" stroke-width="1.2"/>
<line x1="136.0" y1="1730.9" x2="898.0" y2="1730.9" stroke="#EBEBEB" stroke-width="1.2"/>
<line x1="136.0" y1="1848.0" x2="898.0" y2="1848.0" stroke="#EBEBEB" stroke-width="2.6"/>
<line x1="136.0" y1="1769.9" x2="898.0" y2="1769.9" stroke="#EBEBEB" stroke-width="2.6"/>
<line x1="136.0" y1="1691.8" x2="898.0" y2="1691.8" stroke="#EBEBEB" stroke-width="2.6"/>
<line x1="132" y1="1887.0" x2="893.4" y2="1887.0" stroke="#EBEBEB" stroke-width="1.2"/>
<text x="133.2" y="1632.2" font-size="29" font-weight="700" fill="#000">E</text>
<text x="163.4" y="1635.9" font-size="43.5" font-weight="700" fill="#000" stroke="#fff" stroke-width="0.8" textLength="468" lengthAdjust="spacingAndGlyphs">Bacterial concentration</text>
<text x="122.5" y="1699.9" font-size="29.5" text-anchor="end" fill="#000" stroke="#fff" stroke-width="0.45">2.0</text>
<text x="122.5" y="1779.1" font-size="29.5" text-anchor="end" fill="#000" stroke="#fff" stroke-width="0.45">1.5</text>
<text x="122.5" y="1858.5" font-size="29.5" text-anchor="end" fill="#000" stroke="#fff" stroke-width="0.45">1.0</text>
<text x="169.9" y="1933.3" font-size="29.5" text-anchor="middle" fill="#000" stroke="#fff" stroke-width="0.45">0</text>
<text x="245.5" y="1933.3" font-size="29.5" text-anchor="middle" fill="#000" stroke="#fff" stroke-width="0.45">10</text>
<text x="321.1" y="1933.3" font-size="29.5" text-anchor="middle" fill="#000" stroke="#fff" stroke-width="0.45">20</text>
<text x="396.7" y="1933.3" font-size="29.5" text-anchor="middle" fill="#000" stroke="#fff" stroke-width="0.45">30</text>
<text x="472.3" y="1933.3" font-size="29.5" text-anchor="middle" fill="#000" stroke="#fff" stroke-width="0.45">40</text>
<text x="548.0" y="1933.3" font-size="29.5" text-anchor="middle" fill="#000" stroke="#fff" stroke-width="0.45">50</text>
<text x="623.6" y="1933.3" font-size="29.5" text-anchor="middle" fill="#000" stroke="#fff" stroke-width="0.45">60</text>
<text x="699.2" y="1933.3" font-size="29.5" text-anchor="middle" fill="#000" stroke="#fff" stroke-width="0.45">70</text>
<text x="774.8" y="1933.3" font-size="29.5" text-anchor="middle" fill="#000" stroke="#fff" stroke-width="0.45">80</text>
<text x="850.4" y="1933.3" font-size="29.5" text-anchor="middle" fill="#000" stroke="#fff" stroke-width="0.45">90</text>
<text transform="translate(29.2,1923.2) rotate(-90)" font-size="33.3" fill="#000" stroke="#fff" stroke-width="0.45"><tspan>Bacteria [10</tspan><tspan font-size="21.3" dy="-13">7</tspan><tspan dy="13"> / mL]</tspan></text>
<path d="M170.5,1859.5 L320.9,1860.3 L366.4,1876.4 L501.2,1872.2 L547.2,1860.6 L681.9,1892.9 L727.1,1892.9 L863.2,1860.6" fill="none" stroke="#000080" stroke-width="6" stroke-linejoin="round" stroke-linecap="butt" stroke-dasharray="6 6"/>
<path d="M170.5,1859.5 L320.9,1851.0 L366.4,1856.5 L501.2,1890.0 L547.2,1817.6 L681.9,1725.4 L727.1,1704.1 L863.2,1675.3" fill="none" stroke="#000080" stroke-width="6" stroke-linejoin="round" stroke-linecap="butt"/>
<circle cx="170.5" cy="1859.5" r="9.9" fill="#000080" fill-opacity="0.3" stroke="#000080" stroke-opacity="0.3" stroke-width="1.8"/>
<circle cx="320.9" cy="1860.3" r="9.9" fill="#000080" fill-opacity="0.3" stroke="#000080" stroke-opacity="0.3" stroke-width="1.8"/>
<circle cx="366.4" cy="1876.4" r="9.9" fill="#000080" fill-opacity="0.3" stroke="#000080" stroke-opacity="0.3" stroke-width="1.8"/>
<circle cx="501.2" cy="1872.2" r="9.9" fill="#000080" fill-opacity="0.3" stroke="#000080" stroke-opacity="0.3" stroke-width="1.8"/>
<circle cx="547.2" cy="1860.6" r="9.9" fill="#000080" fill-opacity="0.3" stroke="#000080" stroke-opacity="0.3" stroke-width="1.8"/>
<circle cx="681.9" cy="1892.9" r="9.9" fill="#000080" fill-opacity="0.3" stroke="#000080" stroke-opacity="0.3" stroke-width="1.8"/>
<circle cx="727.1" cy="1892.9" r="9.9" fill="#000080" fill-opacity="0.3" stroke="#000080" stroke-opacity="0.3" stroke-width="1.8"/>
<circle cx="863.2" cy="1860.6" r="9.9" fill="#000080" fill-opacity="0.3" stroke="#000080" stroke-opacity="0.3" stroke-width="1.8"/>
<circle cx="170.5" cy="1859.5" r="9.9" fill="#000080" fill-opacity="0.3" stroke="#000080" stroke-opacity="0.3" stroke-width="1.8"/>
<circle cx="320.9" cy="1851.0" r="9.9" fill="#000080" fill-opacity="0.3" stroke="#000080" stroke-opacity="0.3" stroke-width="1.8"/>
<circle cx="366.4" cy="1856.5" r="9.9" fill="#000080" fill-opacity="0.3" stroke="#000080" stroke-opacity="0.3" stroke-width="1.8"/>
<circle cx="501.2" cy="1890.0" r="9.9" fill="#000080" fill-opacity="0.3" stroke="#000080" stroke-opacity="0.3" stroke-width="1.8"/>
<circle cx="547.2" cy="1817.6" r="9.9" fill="#000080" fill-opacity="0.3" stroke="#000080" stroke-opacity="0.3" stroke-width="1.8"/>
<circle cx="681.9" cy="1725.4" r="9.9" fill="#000080" fill-opacity="0.3" stroke="#000080" stroke-opacity="0.3" stroke-width="1.8"/>
<circle cx="727.1" cy="1704.1" r="9.9" fill="#000080" fill-opacity="0.3" stroke="#000080" stroke-opacity="0.3" stroke-width="1.8"/>
<circle cx="863.2" cy="1675.3" r="9.9" fill="#000080" fill-opacity="0.3" stroke="#000080" stroke-opacity="0.3" stroke-width="1.8"/>
<text x="364.8" y="1982.3" font-size="33" fill="#000" stroke="#fff" stroke-width="0.45" textLength="296" lengthAdjust="spacingAndGlyphs">Hours post infection</text>
<line x1="305" y1="2024" x2="368" y2="2024" stroke="#000" stroke-width="6" stroke-dasharray="5.8 5.5"/>
<text x="376.2" y="2035" font-size="32.5" fill="#000" stroke="#fff" stroke-width="0.45">control</text>
<line x1="541.4" y1="2024.6" x2="603.4" y2="2024.6" stroke="#000" stroke-width="6"/>
<text x="609.6" y="2035" font-size="32.5" fill="#000" stroke="#fff" stroke-width="0.45">infected</text>
</svg></body></html>
